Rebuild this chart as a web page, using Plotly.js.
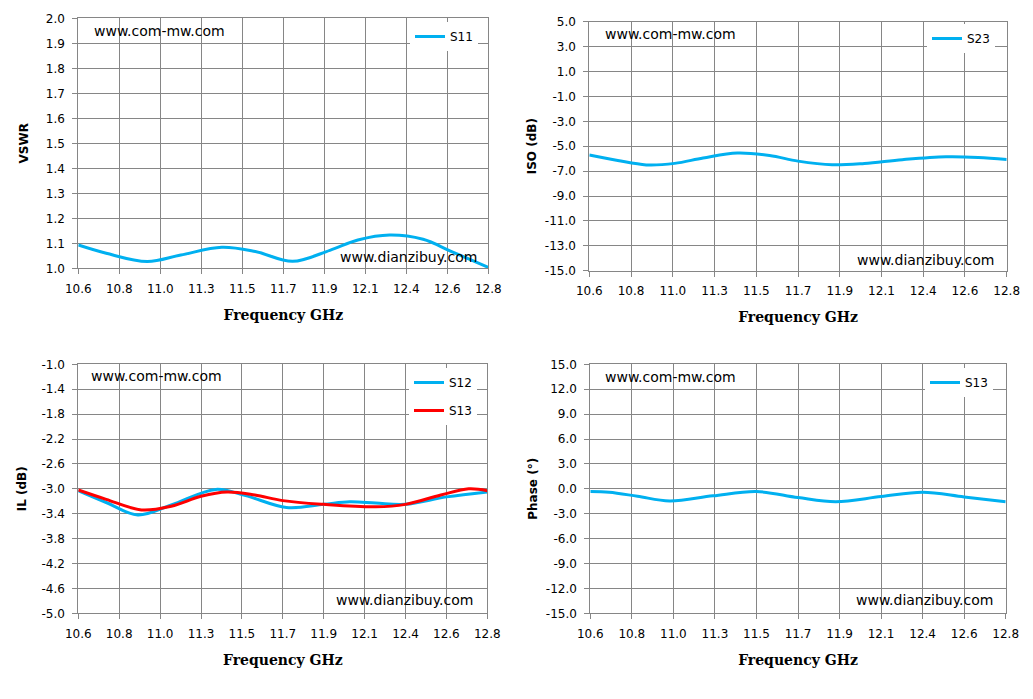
<!DOCTYPE html>
<html>
<head>
<meta charset="utf-8">
<script src="https://cdn.plot.ly/plotly-3.0.1.min.js"></script>
<style>
  html, body { margin: 0; padding: 0; background: #fff; }
  #chart { width: 1033px; height: 699px; }
</style>
</head>
<body>
<div id="chart"></div>
<script>
'use strict';

// Frequency axis (10 equal steps, labels rounded like the source sheet)
var freqTicks = [10.6, 10.82, 11.04, 11.26, 11.48, 11.70, 11.92, 12.14, 12.36, 12.58, 12.8];
var freqLabels = ['10.6', '10.8', '11.0', '11.3', '11.5', '11.7', '11.9', '12.1', '12.4', '12.6', '12.8'];

// VSWR S11
var s11Freq = [10.6, 10.75, 10.97, 11.15, 11.37, 11.55, 11.75, 11.95, 12.1, 12.27, 12.45, 12.6, 12.8];
var s11Vswr = [1.093, 1.060, 1.027, 1.053, 1.084, 1.067, 1.028, 1.072, 1.113, 1.133, 1.116, 1.068, 1.004];

// Isolation S23
var s23Freq = [10.6, 10.75, 10.9, 11.05, 11.2, 11.38, 11.55, 11.7, 11.88, 12.05, 12.25, 12.48, 12.65, 12.8];
var s23Iso = [-5.71, -6.15, -6.50, -6.38, -5.95, -5.55, -5.75, -6.20, -6.49, -6.38, -6.08, -5.85, -5.90, -6.06];

// Insertion loss S12 / S13
var s12Freq = [10.6, 10.75, 10.92, 11.1, 11.34, 11.5, 11.72, 11.92, 12.06, 12.2, 12.36, 12.58, 12.8];
var s12Il = [-3.03, -3.22, -3.42, -3.26, -3.01, -3.11, -3.30, -3.25, -3.21, -3.23, -3.25, -3.13, -3.05];
var s13Freq = [10.6, 10.75, 10.94, 11.1, 11.26, 11.4, 11.55, 11.7, 11.92, 12.2, 12.36, 12.55, 12.7, 12.8];
var s13Il = [-3.02, -3.17, -3.34, -3.28, -3.12, -3.05, -3.10, -3.19, -3.25, -3.29, -3.25, -3.10, -3.00, -3.03];

// Phase S13
var phFreq = [10.6, 10.7, 10.85, 11.02, 11.25, 11.48, 11.7, 11.9, 12.14, 12.36, 12.58, 12.8];
var phDeg = [-0.34, -0.42, -0.90, -1.47, -0.85, -0.33, -1.06, -1.55, -0.94, -0.42, -0.98, -1.55];

var W = 1033, H = 699;
var BLUE = '#00b0f0', RED = '#ff0000', GRID = '#868686';

function px (x) { return x / W; }
function py (y) { return 1 - y / H; }

function yTicks (from, to, step) {
    var vals = [], text = [];
    for (var v = from; v <= to + step / 2; v += step) {
        var r = Math.round(v * 10) / 10;
        vals.push(r);
        text.push(r.toFixed(1));
    }
    return { vals: vals, text: text };
}

function xAxis (left, right, anchor) {
    return {
        domain: [px(left), px(right)],
        anchor: anchor,
        range: [10.6, 12.8],
        tickvals: freqTicks,
        ticktext: freqLabels,
        showgrid: true, gridcolor: GRID, gridwidth: 1,
        showline: true, linecolor: GRID, linewidth: 1, mirror: true,
        ticks: 'outside', ticklen: 5, tickcolor: GRID,
        ticklabelstandoff: 4,
        zeroline: false,
        tickfont: { family: 'DejaVu Sans', size: 12, color: '#000' },
        title: {
            text: 'Frequency GHz', standoff: 15,
            font: { family: 'DejaVu Serif', size: 14, weight: 'bold', color: '#000' }
        }
    };
}

function yAxis (top, bottom, anchor, ticks, label, gap) {
    return {
        domain: [py(bottom), py(top)],
        anchor: anchor,
        range: [ticks.vals[0], ticks.vals[ticks.vals.length - 1]],
        tickvals: ticks.vals,
        ticktext: ticks.text,
        showgrid: true, gridcolor: GRID, gridwidth: 1,
        showline: true, linecolor: GRID, linewidth: 1, mirror: true,
        ticks: 'outside', ticklen: 5, tickcolor: GRID,
        ticklabelstandoff: 5,
        zeroline: false,
        tickfont: { family: 'DejaVu Sans', size: 12, color: '#000' },
        title: {
            text: label, standoff: gap,
            font: { family: 'DejaVu Sans', size: 12, weight: 'bold', color: '#000' }
        }
    };
}

function line (x, y, name, color, xa, ya, legend) {
    return {
        type: 'scatter', mode: 'lines', name: name,
        x: x, y: y, xaxis: xa, yaxis: ya, legend: legend,
        line: { shape: 'spline', smoothing: 1, color: color, width: 3 },
        hoverinfo: 'none'
    };
}

function legendBox (left, top) {
    return {
        x: px(left), y: py(top), xanchor: 'left', yanchor: 'top',
        bgcolor: '#fff', borderwidth: 0, tracegroupgap: 9,
        font: { family: 'DejaVu Sans', size: 12, color: '#000' }
    };
}

function mark (text, x, y, anchor) {
    return {
        text: text, xref: 'paper', yref: 'paper',
        x: px(x), y: py(y), xanchor: anchor, yanchor: 'middle',
        showarrow: false,
        font: { family: 'DejaVu Sans', size: 14, color: '#000' }
    };
}

var traces = [
    line(s11Freq, s11Vswr, 'S11', BLUE, 'x', 'y', 'legend'),
    line(s23Freq, s23Iso, 'S23', BLUE, 'x2', 'y2', 'legend2'),
    line(s12Freq, s12Il, 'S12', BLUE, 'x3', 'y3', 'legend3'),
    line(s13Freq, s13Il, 'S13', RED, 'x3', 'y3', 'legend3'),
    line(phFreq, phDeg, 'S13', BLUE, 'x4', 'y4', 'legend4')
];
traces[2].legendgroup = 'a';
traces[3].legendgroup = 'b';

var layout = {
    width: W, height: H,
    margin: { l: 0, r: 0, t: 0, b: 0 },
    paper_bgcolor: '#fff', plot_bgcolor: '#fff',
    showlegend: true,

    xaxis: xAxis(78.3, 488.3, 'y'),
    yaxis: yAxis(18.3, 268.3, 'x', yTicks(1.0, 2.0, 0.1), 'VSWR', 14),
    xaxis2: xAxis(589.3, 1006.7, 'y2'),
    yaxis2: yAxis(21.7, 270.7, 'x2', yTicks(-15, 5, 2), 'ISO (dB)', 5),
    xaxis3: xAxis(78.3, 487.3, 'y3'),
    yaxis3: yAxis(364.3, 613.3, 'x3', yTicks(-5, -1, 0.4), 'IL (dB)', 12),
    xaxis4: xAxis(590.3, 1005.7, 'y4'),
    yaxis4: yAxis(364.3, 613.3, 'x4', yTicks(-15, 15, 3), 'Phase (°)', 5),

    legend: legendBox(410, 22),
    legend2: legendBox(927, 24),
    legend3: legendBox(409, 368),
    legend4: legendBox(925, 368),

    annotations: [
        mark('www.com-mw.com', 92, 31, 'left'),
        mark('www.dianzibuy.com', 479, 257, 'right'),
        mark('www.com-mw.com', 603, 34, 'left'),
        mark('www.dianzibuy.com', 996, 260, 'right'),
        mark('www.com-mw.com', 89, 376, 'left'),
        mark('www.dianzibuy.com', 475, 600, 'right'),
        mark('www.com-mw.com', 603, 377, 'left'),
        mark('www.dianzibuy.com', 995, 600, 'right')
    ]
};

Plotly.newPlot(document.getElementById('chart'), traces, layout,
    { showLink: false, displayModeBar: false, staticPlot: true });
</script>
</body>
</html>
